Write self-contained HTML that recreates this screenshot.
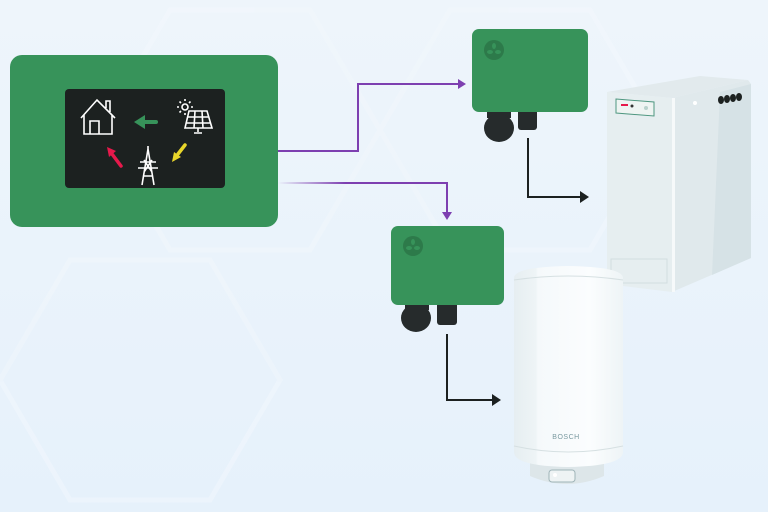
<!DOCTYPE html>
<html><head><meta charset="utf-8"><style>
html,body{margin:0;padding:0;width:768px;height:512px;overflow:hidden;background:#eaf3fb;}
svg{display:block}
</style></head><body>
<svg width="768" height="512" viewBox="0 0 768 512" xmlns="http://www.w3.org/2000/svg">
<defs>
<linearGradient id="bg" x1="0" y1="0" x2="0" y2="1"><stop offset="0" stop-color="#eef5fb"/><stop offset="1" stop-color="#e6f1fb"/></linearGradient>
<linearGradient id="pf" x1="0" x2="1"><stop offset="0" stop-color="#7d3fb0" stop-opacity="0"/><stop offset="0.4" stop-color="#7d3fb0"/></linearGradient>
<linearGradient id="cyl" x1="0" x2="1"><stop offset="0" stop-color="#e6eef1"/><stop offset="0.2" stop-color="#eef4f6"/><stop offset="0.22" stop-color="#f5f9fb"/><stop offset="0.7" stop-color="#fbfdfe"/><stop offset="1" stop-color="#eef4f6"/></linearGradient>
</defs>
<rect width="768" height="512" fill="url(#bg)"/>
<g fill="none" stroke="#f3f8fd" stroke-width="5" opacity="0.45">
<polygon points="100,130 170,10 310,10 380,130 310,250 170,250"/>
<polygon points="0,380 70,260 210,260 280,380 210,500 70,500"/>
<polygon points="380,130 450,10 590,10 660,130 590,250 450,250"/>
</g>
<rect x="10" y="55" width="268" height="172" rx="12" fill="#37935a"/>
<rect x="65" y="89" width="160" height="99" rx="4" fill="#1c2120"/>
<g stroke="#fff" stroke-width="1.6" fill="none">
<path d="M81,118 L97,100 L115,118 M84,115 V134 H112 V115 M90,134 V121 H99 V134 M106,108 V101 H110 V112"/>
<circle cx="185" cy="107" r="3"/>
<path d="M185,101v-2 M185,113v2 M179,107h-2 M191,107h2 M181,103l-1.5,-1.5 M189,103l1.5,-1.5 M181,111l-1.5,1.5"/>
<path d="M189,111 H207 L212,128 H185 Z M187,117H209 M186,123H211 M195,111L194,128 M202,111L203,128 M198,128V132 M194,133H202"/>
<path d="M148,149 L142,185 M148,149 L154,185 M140,162H156 M138,168H158 M143,176H153 M144,160 L152,172 M152,160 L144,172 M148,149V146"/>
</g>
<path d="M156,122 H144" stroke="#37935a" stroke-width="4" stroke-linecap="round"/>
<polygon points="134,122 145,115 145,129" fill="#37935a"/>
<path d="M121,166 L112,154" stroke="#e6194b" stroke-width="3.5" stroke-linecap="round"/>
<polygon points="107,147 116,151 109,157" fill="#e6194b"/>
<path d="M185,145 L178,154" stroke="#e8d62a" stroke-width="3.5" stroke-linecap="round"/>
<polygon points="172,162 174,152 181,157" fill="#e8d62a"/>
<path d="M278,151 H358 V84 H462" stroke="#7d3fb0" stroke-width="2" fill="none"/>
<polygon points="466,84 458,79 458,89" fill="#7d3fb0"/>
<path d="M278,183 H447 V214" stroke="url(#pf)" stroke-width="2" fill="none"/>
<polygon points="447,220 442,212 452,212" fill="#7d3fb0"/>
<rect x="487" y="108" width="24" height="10" fill="#262b2c"/>
<ellipse cx="499" cy="128" rx="15" ry="14" fill="#262b2c"/>
<rect x="518" y="108" width="19" height="22" rx="3" fill="#262b2c"/>
<rect x="472" y="29" width="116" height="83" rx="7" fill="#37935a"/>
<circle cx="494" cy="50" r="10" fill="#2d7a4a"/>
<g fill="#37935a"><ellipse cx="494" cy="46" rx="2" ry="3"/><ellipse cx="490" cy="52" rx="3" ry="2"/><ellipse cx="498" cy="52" rx="3" ry="2"/></g>
<rect x="405" y="300" width="24" height="10" fill="#262b2c"/>
<ellipse cx="416" cy="318" rx="15" ry="14" fill="#262b2c"/>
<rect x="437" y="300" width="20" height="25" rx="3" fill="#262b2c"/>
<rect x="391" y="226" width="113" height="79" rx="7" fill="#37935a"/>
<circle cx="413" cy="246" r="10" fill="#2d7a4a"/>
<g fill="#37935a"><ellipse cx="413" cy="242" rx="2" ry="3"/><ellipse cx="409" cy="248" rx="3" ry="2"/><ellipse cx="417" cy="248" rx="3" ry="2"/></g>
<path d="M528,138 V197 H582" stroke="#1c2120" stroke-width="2" fill="none"/>
<polygon points="589,197 580,191 580,203" fill="#1c2120"/>
<path d="M447,334 V400 H494" stroke="#1c2120" stroke-width="2" fill="none"/>
<polygon points="501,400 492,394 492,406" fill="#1c2120"/>
<polygon points="607,92 700,76 748,80 672,98" fill="#e2eaed"/>
<polygon points="607,92 672,98 672,292 607,284" fill="#e6eef0"/>
<polygon points="672,98 748,80 751,84 751,258 672,292" fill="#e0e9ec"/>
<polygon points="720,92 751,84 751,258 712,275" fill="#d6e2e6"/>
<rect x="672" y="98" width="3" height="194" fill="#f6f9fa"/>
<polygon points="616,99 654,102 654,116 616,113" fill="#eef4f2" stroke="#4f9780" stroke-width="1"/>
<rect x="621" y="104" width="7" height="2" fill="#e6194b"/>
<circle cx="632" cy="106" r="1.5" fill="#333"/>
<circle cx="646" cy="108" r="2" fill="#b9d2cc"/>
<rect x="611" y="259" width="56" height="24" fill="none" stroke="#d3dde0"/>
<circle cx="695" cy="103" r="2" fill="#fff"/>
<g fill="#1c2120"><ellipse cx="721" cy="100" rx="3" ry="4"/><ellipse cx="727" cy="99" rx="3" ry="4"/><ellipse cx="733" cy="98" rx="3" ry="4"/><ellipse cx="739" cy="97" rx="3" ry="4"/></g>
<path d="M530,462 H604 V476 Q567,492 530,476 Z" fill="#dde6e9"/>
<rect x="549" y="470" width="26" height="12" rx="3" fill="#eef3f4" stroke="#9fb4b8"/>
<circle cx="555" cy="475" r="2" fill="#fff"/>
<path d="M514,278 Q514,267 568,266 Q623,267 623,278 V452 Q623,466 568,467 Q514,466 514,452 Z" fill="url(#cyl)"/>
<path d="M514,280 Q568,272 623,280 M514,446 Q568,458 623,446" stroke="#d6e0e2" fill="none"/>
<text x="566" y="439" font-family="Liberation Sans, sans-serif" font-size="7" fill="#7a9aa0" text-anchor="middle" letter-spacing="0.5">BOSCH</text>
</svg>
</body></html>
